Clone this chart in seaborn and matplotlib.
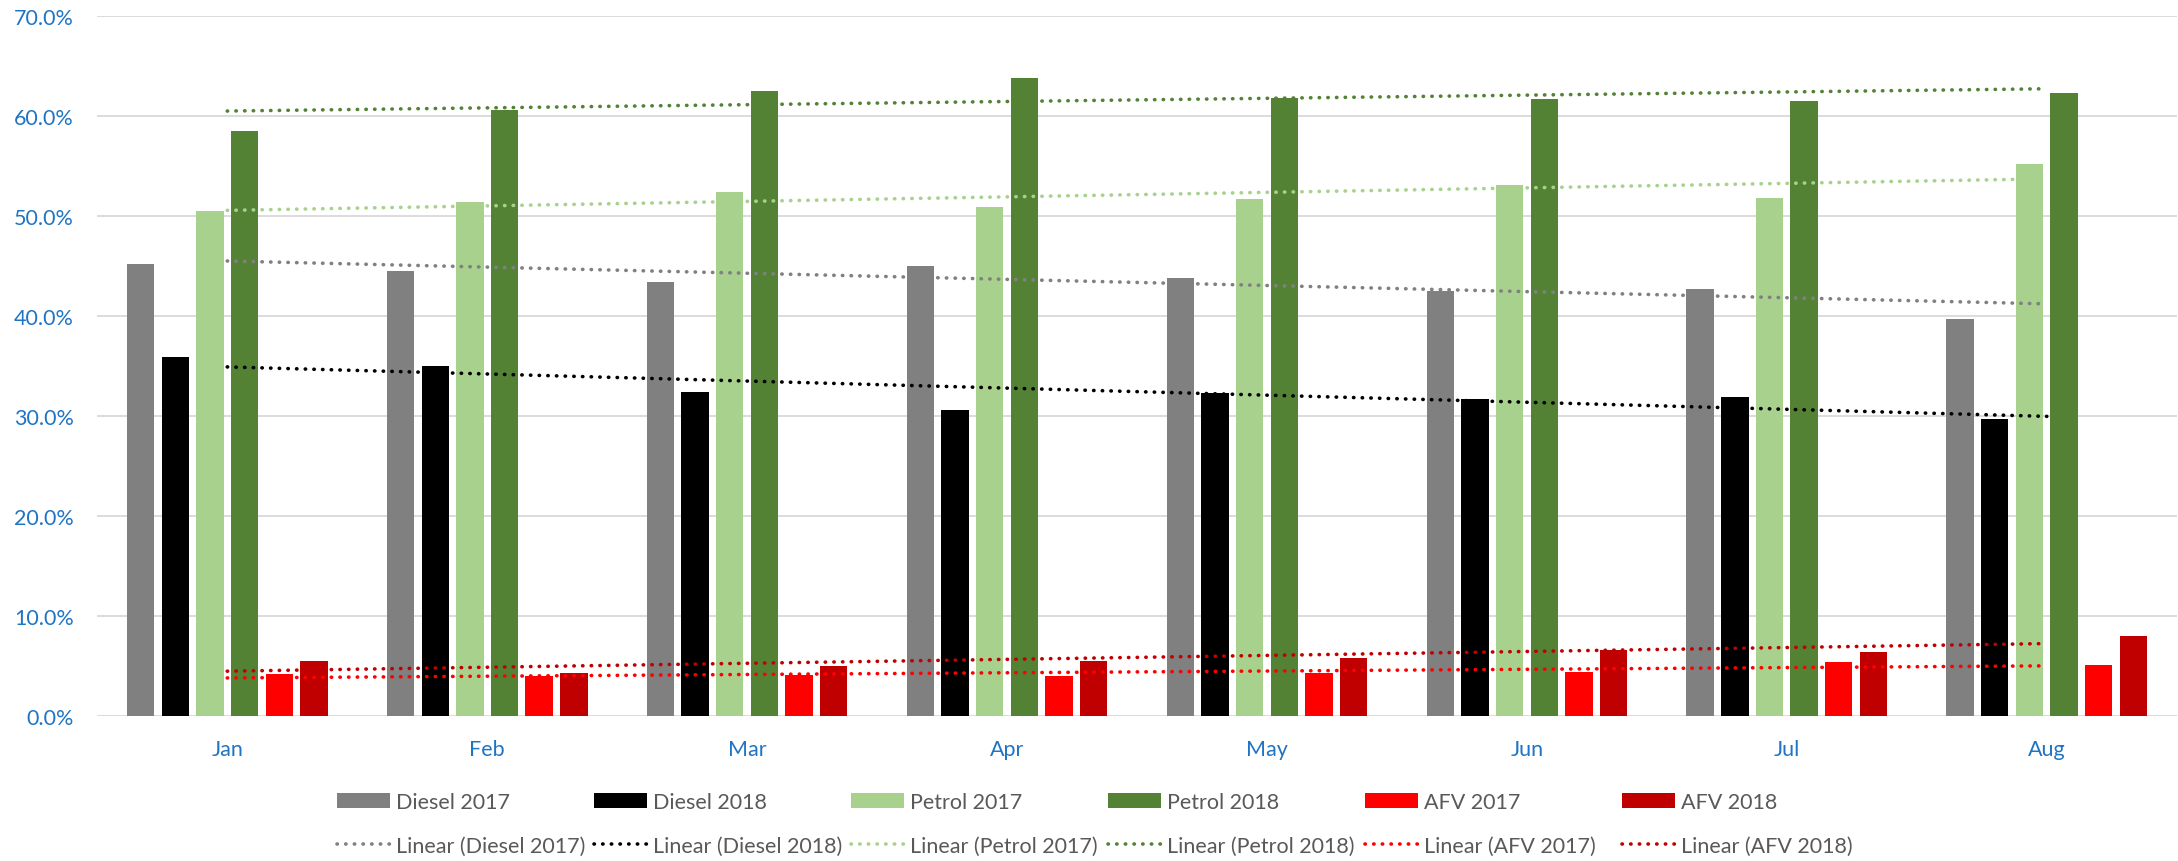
import numpy as np
import pandas as pd
import matplotlib
matplotlib.use("Agg")
import matplotlib.pyplot as plt
from matplotlib.ticker import PercentFormatter, MultipleLocator
from matplotlib.patches import Rectangle
from matplotlib.lines import Line2D
import seaborn as sns

# Monthly market share (%) by fuel type
months = ["Jan", "Feb", "Mar", "Apr", "May", "Jun", "Jul", "Aug"]
diesel_2017 = [45.2, 44.5, 43.4, 45.0, 43.8, 42.5, 42.7, 39.7]
diesel_2018 = [35.9, 35.0, 32.4, 30.6, 32.3, 31.7, 31.9, 29.7]
petrol_2017 = [50.5, 51.4, 52.4, 50.9, 51.7, 53.1, 51.8, 55.2]
petrol_2018 = [58.5, 60.6, 62.5, 63.8, 61.8, 61.7, 61.5, 62.3]
afv_2017 = [4.2, 4.0, 4.1, 4.0, 4.3, 4.4, 5.4, 5.1]
afv_2018 = [5.5, 4.3, 5.0, 5.5, 5.8, 6.6, 6.4, 8.0]

series_names = ["Diesel 2017", "Diesel 2018", "Petrol 2017",
                "Petrol 2018", "AFV 2017", "AFV 2018"]
series_values = [diesel_2017, diesel_2018, petrol_2017,
                 petrol_2018, afv_2017, afv_2018]
colors = ["#808080", "#000000", "#a9d18e", "#548235", "#ff0000", "#c00000"]
palette = dict(zip(series_names, colors))

df = pd.DataFrame(
    [(m, s, v) for s, vals in zip(series_names, series_values)
     for m, v in zip(months, vals)],
    columns=["month", "series", "share"],
)

sns.set_theme(style="white")
plt.rcParams["font.family"] = ["Lato", "DejaVu Sans"]

W, H = 2178, 862
fig = plt.figure(figsize=(W / 100, H / 100), dpi=100)
ax = fig.add_axes([97.3 / W, 1 - 717.3 / H, (2176.7 - 97.3) / W, (717.3 - 16.7) / H])

ax.set_axisbelow(True)
ax.yaxis.grid(True, color="#d9d9d9", linewidth=1.3)
for sp in ax.spines.values():
    sp.set_visible(False)

sns.barplot(data=df, x="month", y="share", hue="series",
            hue_order=series_names, palette=palette, order=months,
            width=0.8, gap=0.21, saturation=1, legend=False, ax=ax,
            edgecolor="none", linewidth=0)

# Linear trendlines per series
dot_style = (0, (0.1, 2.3))
trend_lw = 2.6
xs = np.arange(len(months))
for name, vals in zip(series_names, series_values):
    sns.regplot(x=xs, y=np.array(vals), scatter=False, ci=None, truncate=True,
                ax=ax, line_kws=dict(color=palette[name], linewidth=trend_lw,
                                     linestyle=dot_style,
                                     dash_capstyle="round", zorder=5))

ax.set_xlim(-0.5, len(months) - 0.5)
ax.set_ylim(0, 70)
ax.yaxis.set_major_locator(MultipleLocator(10))
ax.yaxis.set_major_formatter(PercentFormatter(100, decimals=1))
ax.set_xlabel("")
ax.set_ylabel("")
ax.tick_params(axis="y", length=0, pad=17, labelsize=15.5, labelcolor="#1f74c4")
ax.tick_params(axis="x", length=0, pad=16, labelsize=15.5, labelcolor="#1f74c4")

# Legend: one column per series, bar swatch above its trendline entry
col_x = [337, 594, 851, 1108, 1365, 1622]
for name, x0 in zip(series_names, col_x):
    handles = [
        Rectangle((0, 0), 1, 1, facecolor=palette[name], edgecolor="none"),
        Line2D([0], [0], color=palette[name], linewidth=trend_lw,
               linestyle=dot_style, dash_capstyle="round"),
    ]
    labels = [name, f"Linear ({name})"]
    fig.legend(handles, labels, loc="upper left",
               bbox_to_anchor=(x0 / W, 1 - 793 / H),
               frameon=False, fontsize=15.5, borderpad=0,
               borderaxespad=0, handlelength=2.45, handleheight=0.74,
               handletextpad=0.3, labelspacing=1.1,
               labelcolor="#595959")

fig.savefig("out.png", dpi=100)
